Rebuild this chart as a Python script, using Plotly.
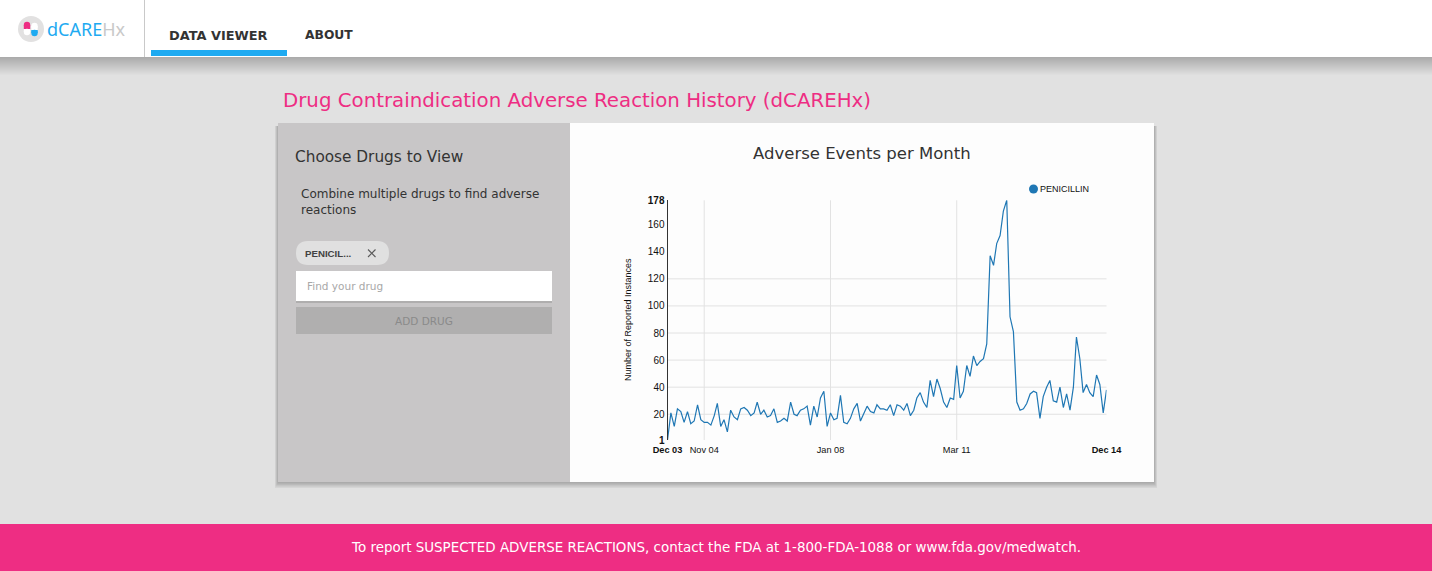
import pandas as pd
import plotly.graph_objects as go

W, H = 1432, 571

months = pd.date_range("2003-12-01", "2014-12-01", freq="MS")
penicillin = [
    1, 21, 11, 24, 22, 14, 22, 13, 15, 27, 16, 14, 14, 12, 19, 28, 11, 16, 7, 23,
    18, 16, 24, 25, 23, 19, 21, 29, 20, 23, 18, 19, 24, 14, 15, 17, 15, 29, 20, 19,
    23, 24, 26, 12, 26, 18, 32, 37, 11, 21, 16, 17, 34, 14, 13, 17, 24, 28, 15, 20,
    26, 22, 21, 27, 24, 24, 23, 27, 19, 27, 26, 23, 28, 19, 23, 32, 36, 29, 25, 45,
    33, 46, 39, 29, 25, 32, 31, 56, 32, 37, 56, 48, 63, 56, 59, 61, 72, 137, 130, 146,
    152, 170, 178, 92, 81, 29, 23, 24, 28, 35, 37, 36, 17, 33, 40, 45, 30, 29, 40, 25,
    35, 23, 40, 77, 61, 36, 42, 36, 33, 49, 42, 21, 38,
]

x_tick_dates = ["2003-12-01", "2004-11-01", "2008-01-01", "2011-03-01", "2014-12-01"]
x_tick_labels = ["<b>Dec 03</b>", "Nov 04", "Jan 08", "Mar 11", "<b>Dec 14</b>"]
x_grid_dates = ["2004-11-01", "2008-01-01", "2011-03-01"]
y_tick_vals = [1, 20, 40, 60, 80, 100, 120, 140, 160, 178]
y_tick_labels = ["<b>1</b>", "20", "40", "60", "80", "100", "120", "140", "160", "<b>178</b>"]
y_grid_vals = [20, 40, 60, 80, 100, 120]

UI_FONT = "DejaVu Sans"
LOGO_FONT = "Noto Sans"
CHART_FONT = "Liberation Sans"
BLUE = "#1eaaf1"
PINK = "#ee2d83"
TEXT = "#333333"

shapes = []
annotations = []


def px(x):
    return x / W


def py(y):
    return 1 - y / H


def rect(x0, y0, x1, y1, color, layer="below"):
    shapes.append(dict(type="rect", xref="paper", yref="paper", x0=px(x0), x1=px(x1),
                       y0=py(y0), y1=py(y1), fillcolor=color, line_width=0, layer=layer))


def circle(cx, cy, r, color):
    shapes.append(dict(type="circle", xref="paper", yref="paper", x0=px(cx - r), x1=px(cx + r),
                       y0=py(cy - r), y1=py(cy + r), fillcolor=color, line_width=0, layer="below"))


def line(x0, y0, x1, y1, color, width=1.0):
    shapes.append(dict(type="line", xref="paper", yref="paper", x0=px(x0), x1=px(x1),
                       y0=py(y0), y1=py(y1), line=dict(color=color, width=width), layer="below"))


def label(x, y, text, size, color=TEXT, anchor="left", family=UI_FONT, angle=0):
    annotations.append(dict(xref="paper", yref="paper", x=px(x), y=py(y), text=text, showarrow=False,
                            xanchor=anchor, yanchor="middle", textangle=angle, borderpad=0, borderwidth=0,
                            font=dict(family=family, size=size, color=color)))


# page chrome
for i in range(18):
    rect(0, 57, W, 57 + 18 - i, "rgba(0,0,0,0.012)")
rect(0, 0, W, 57, "#ffffff")
line(144.5, 0, 144.5, 57, "#c9c9c9")
rect(151, 50, 287, 56, BLUE)
rect(0, 524, W, H, PINK)

# logo
circle(31, 29, 13, "#e2e1e1")
circle(27, 25, 3.2, PINK)
rect(23.8, 25, 30.2, 29, PINK)
rect(23.8, 29, 30.2, 32, "#ffffff")
circle(27, 32, 3.2, "#ffffff")
circle(34.5, 26, 3.2, "#ffffff")
rect(31.3, 26, 37.7, 30, "#ffffff")
rect(31.3, 30, 37.7, 33, BLUE)
circle(34.5, 33, 3.2, BLUE)
label(47, 29, "dCARE<span style='color:#c9c9c9'>Hx</span>", 18, BLUE, family=LOGO_FONT)
label(169, 35, "<b>DATA VIEWER</b>", 12.9)
label(305, 35, "<b>ABOUT</b>", 12.3)

label(283, 100, "Drug Contraindication Adverse Reaction History (dCAREHx)", 19.8, PINK)

# card
for i in range(5, 0, -1):
    rect(278 - i * 0.6, 126, 1154 + i * 0.6, 482 + i * 1.2, "rgba(0,0,0,0.05)")
rect(278, 123, 570, 482, "#c8c6c7")
rect(570, 123, 1154, 482, "#fdfdfd")

# left panel
label(295, 157, "Choose Drugs to View", 15.3)
label(301, 194, "Combine multiple drugs to find adverse", 12)
label(301, 210, "reactions", 12)
shapes.append(dict(type="path", xref="paper", yref="paper", layer="below", line_width=0, fillcolor="#e0e0e0",
                   path=(f"M {px(308)} {py(241)} L {px(377)} {py(241)} "
                         f"Q {px(389)} {py(241)} {px(389)} {py(253)} Q {px(389)} {py(265)} {px(377)} {py(265)} "
                         f"L {px(308)} {py(265)} Q {px(296)} {py(265)} {px(296)} {py(253)} "
                         f"Q {px(296)} {py(241)} {px(308)} {py(241)} Z")))
label(305, 253.5, "<b>PENICIL...</b>", 9.7, "#424242", family=CHART_FONT)
line(368, 249.5, 375.5, 257, "#5a5a5a", 1.1)
line(375.5, 249.5, 368, 257, "#5a5a5a", 1.1)
rect(296, 272, 552, 303, "rgba(0,0,0,0.12)")
rect(296, 271, 552, 301, "#ffffff")
label(307, 286, "Find your drug", 10.5, "#a8a8a8")
rect(296, 307, 552, 334, "#b0afaf")
label(424, 321, "ADD DRUG", 10.5, "#8a8a8a", anchor="center")

# chart texts
label(862, 153, "Adverse Events per Month", 16.5, anchor="center")
circle(1033.5, 189, 4.5, "#1f77b4")
label(1039.5, 188.5, "PENICILLIN", 9, "#111111", family=CHART_FONT)
label(628, 320, "Number of Reported Instances", 9, "#111111", anchor="center", family=CHART_FONT, angle=-90)

label(716, 547, "To report SUSPECTED ADVERSE REACTIONS, contact the FDA at 1-800-FDA-1088 or www.fda.gov/medwatch.",
      13.45, "#ffffff", anchor="center")

# chart grid
for d in x_grid_dates:
    shapes.append(dict(type="line", xref="x", yref="paper", x0=d, x1=d, y0=py(440), y1=py(200.3),
                       line=dict(color="#e2e2e2", width=1), layer="below"))
for v in y_grid_vals:
    shapes.append(dict(type="line", xref="paper", yref="y", x0=px(667.5), x1=px(1106.5), y0=v, y1=v,
                       line=dict(color="#e2e2e2", width=1), layer="below"))

fig = go.Figure(go.Scatter(x=months, y=penicillin, mode="lines", name="PENICILLIN", cliponaxis=False,
                           line=dict(color="#1f77b4", width=1.2), showlegend=False))

fig.update_layout(
    width=W, height=H, autosize=False,
    margin=dict(l=0, r=0, t=0, b=0, pad=0, autoexpand=False),
    paper_bgcolor="#e1e1e1", plot_bgcolor="rgba(0,0,0,0)",
    shapes=shapes, annotations=annotations,
    font=dict(family=CHART_FONT, size=10, color="#111111"),
    xaxis=dict(domain=[px(667.5), px(1106.5)], range=[months[0], months[-1]], type="date", automargin=False,
               tickmode="array", tickvals=x_tick_dates, ticktext=x_tick_labels, tickangle=0,
               showgrid=False, zeroline=False, showline=False, ticks="outside", ticklen=1,
               tickcolor="rgba(0,0,0,0)",
               tickfont=dict(size=9.2, family=CHART_FONT, color="#111111")),
    yaxis=dict(domain=[py(440), py(200.3)], range=[1, 178], automargin=False,
               tickmode="array", tickvals=y_tick_vals, ticktext=y_tick_labels,
               showgrid=False, zeroline=False, showline=True, linecolor="#333333", linewidth=1,
               ticks="", ticklen=0, tickfont=dict(size=10, family=CHART_FONT, color="#111111")),
)

fig.write_html("out.html", config=dict(displayModeBar=False),
               post_script="document.body.style.margin='0';document.body.style.overflow='hidden';")
